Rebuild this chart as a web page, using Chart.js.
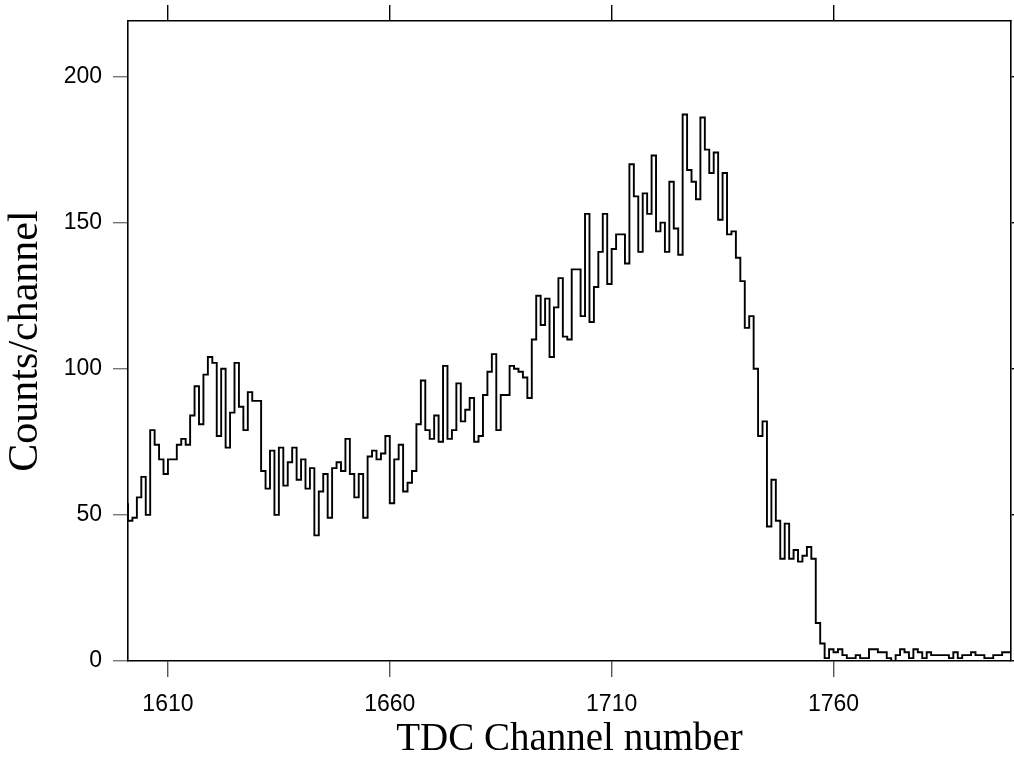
<!DOCTYPE html>
<html>
<head>
<meta charset="utf-8">
<script src="https://cdn.jsdelivr.net/npm/chart.js@4"></script>
<style>
  body { margin: 0; background: #fff; }
  canvas { display: block; }
</style>
</head>
<body>
<canvas id="tdcChart" width="1014" height="763"></canvas>
<script>
// first channel of the histogram, one bin per channel
const firstChannel = 1601;

const counts = [
  54, 48, 49, 56, 63, 50, 79, 74, 69, 64,
  69, 69, 74, 76, 74, 84, 94, 81, 98, 104,
  102, 77, 100, 73, 85, 102, 87, 79, 92, 89,
  89, 65, 59, 72, 50, 73, 60, 68, 73, 62,
  69, 59, 66, 43, 58, 64, 49, 66, 68, 65,
  76, 64, 56, 64, 49, 70, 72, 69, 71, 77,
  54, 69, 74, 58, 61, 65, 81, 96, 79, 76,
  84, 75, 101, 76, 79, 95, 82, 86, 90, 75,
  77, 91, 99, 105, 79, 91, 91, 101, 100, 99,
  97, 90, 110, 125, 115, 124, 104, 121, 131, 111,
  110, 134, 134, 118, 153, 116, 128, 140, 153, 129,
  141, 146, 146, 136, 170, 159, 140, 160, 153, 173,
  147, 150, 140, 164, 148, 139, 187, 168, 164, 158,
  186, 175, 167, 174, 151, 167, 146, 147, 138, 130,
  114, 118, 100, 77, 82, 46, 62, 48, 35, 47,
  35, 38, 34, 36, 39, 35, 13, 6, 1, 4,
  3, 4, 2, 1, 1, 2, 1, 1, 4, 4,
  3, 3, 1, 0, 2, 4, 3, 1, 4, 3,
  1, 3, 2, 2, 2, 2, 1, 3, 1, 2,
  2, 3, 2, 2, 1, 1, 2, 2, 3
];

const xTicks = [1610, 1660, 1710, 1760];
const yTicks = [0, 50, 100, 150, 200];

const xMin = 1601;
const xMax = 1800;
const yMax = 219;

// step outline: each point is a bin's left edge, last point closes the final bin
const points = counts.map((c, i) => ({ x: firstChannel + i, y: c }));
points.push({ x: firstChannel + counts.length, y: counts[counts.length - 1] });

const tickFont = { family: "'Liberation Sans', Arial, sans-serif", size: 23 };
const xTitleFont = { family: "'Liberation Serif', 'Times New Roman', serif", size: 39 };
const yTitleFont = { family: "'Liberation Serif', 'Times New Roman', serif", size: 42 };

function fixTicks(list) {
  return scale => { scale.ticks = list.map(v => ({ value: v })); };
}

const ctx = document.getElementById("tdcChart");
new Chart(ctx, {
  type: "line",
  data: {
    datasets: [{
      data: points,
      stepped: "after",
      borderColor: "#000000",
      borderWidth: 1.9,
      pointRadius: 0,
      fill: false,
      tension: 0
    }]
  },
  options: {
    responsive: false,
    animation: false,
    layout: { padding: 0 },
    plugins: {
      legend: { display: false },
      tooltip: { enabled: false }
    },
    scales: {
      x: {
        type: "linear",
        position: "bottom",
        min: xMin,
        max: xMax,
        afterBuildTicks: fixTicks(xTicks),
        afterFit: s => { s.height = 102; },
        border: { display: true, color: "#000", width: 1.6 },
        grid: { drawOnChartArea: false, drawTicks: true, tickLength: 16, tickColor: "#555", lineWidth: 1.4 },
        ticks: { font: tickFont, color: "#000", padding: 14, maxRotation: 0, callback: v => String(v) },
        title: { display: true, text: "TDC Channel number", font: xTitleFont, color: "#000", padding: { top: 0, bottom: 0 } }
      },
      x2: {
        type: "linear",
        position: "top",
        min: xMin,
        max: xMax,
        afterBuildTicks: fixTicks(xTicks),
        afterFit: s => { s.height = 21; },
        border: { display: true, color: "#000", width: 1.6 },
        grid: { drawOnChartArea: false, drawTicks: true, tickLength: 16, tickColor: "#000", lineWidth: 1.4 },
        ticks: { display: false }
      },
      y: {
        type: "linear",
        position: "left",
        min: 0,
        max: yMax,
        afterBuildTicks: fixTicks(yTicks),
        afterFit: s => { s.width = 128; s.paddingTop = 0; s.paddingBottom = 0; },
        border: { display: true, color: "#000", width: 1.6 },
        grid: { drawOnChartArea: false, drawTicks: true, tickLength: 15, tickColor: "#777", lineWidth: 1.4 },
        ticks: { font: tickFont, color: "#000", padding: 11, callback: v => String(v) },
        title: { display: true, text: "Counts/channel", font: yTitleFont, color: "#000", padding: { top: 1, bottom: 0 } }
      },
      y2: {
        type: "linear",
        position: "right",
        min: 0,
        max: yMax,
        afterBuildTicks: fixTicks(yTicks),
        afterFit: s => { s.width = 3; s.paddingTop = 0; s.paddingBottom = 0; },
        border: { display: true, color: "#000", width: 1.6 },
        grid: { drawOnChartArea: false, drawTicks: true, tickLength: 3, tickColor: "#000", lineWidth: 1.4 },
        ticks: { display: false }
      }
    }
  }
});
</script>
</body>
</html>
